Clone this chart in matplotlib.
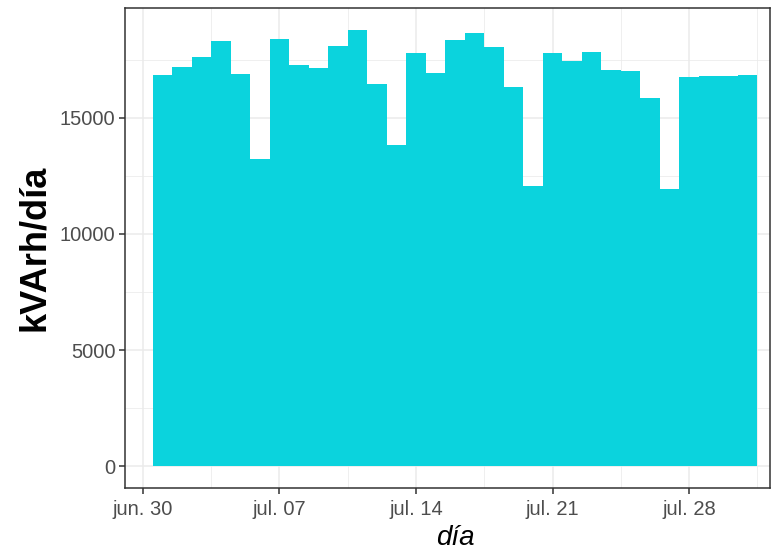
import matplotlib
matplotlib.use("Agg")
import matplotlib.pyplot as plt
import matplotlib.dates as mdates
import datetime as dt

# datos: kVArh por día, julio
dias = [dt.date(2019, 7, d) for d in range(1, 32)]
kvarh = [16850, 17200, 17630, 18320, 16900, 13230, 18400, 17280, 17150, 18100,
         18790, 16460, 13840, 17800, 16940, 18360, 18660, 18060, 16340, 12070,
         17800, 17460, 17850, 17070, 17030, 15860, 11940, 16770, 16810, 16810, 16850]

ticks_x = [dt.date(2019, 6, 30), dt.date(2019, 7, 7), dt.date(2019, 7, 14),
           dt.date(2019, 7, 21), dt.date(2019, 7, 28)]
etiquetas_x = ["jun. 30", "jul. 07", "jul. 14", "jul. 21", "jul. 28"]
ticks_y = [0, 5000, 10000, 15000]

plt.rcParams['font.family'] = ['Liberation Sans', 'DejaVu Sans']

fig = plt.figure(figsize=(7.76, 5.54), dpi=100)
ax = fig.add_axes([125/776, 1 - 488/554, (770-125)/776, (488-8)/554])

x = mdates.date2num(dias)
ax.bar(x, kvarh, width=1.0, color="#0bd3dd", linewidth=0, zorder=2)

# límites del eje (como en el original)
t0 = mdates.date2num(ticks_x[0])
ax.set_xlim(t0 - 0.92, t0 + 32.15)
ymax = max(kvarh)
ax.set_ylim(-0.05 * ymax, ymax * 1.05)

ax.set_xticks(mdates.date2num(ticks_x))
ax.set_xticklabels(etiquetas_x)
ax.set_xticks([t + 3.5 for t in mdates.date2num(ticks_x)], minor=True)
ax.set_yticks(ticks_y)
ax.set_yticklabels([str(v) for v in ticks_y])
ax.set_yticks([2500, 7500, 12500, 17500], minor=True)

ax.grid(which="major", color="#ebebeb", linewidth=1.1, zorder=0)
ax.grid(which="minor", color="#ebebeb", linewidth=0.55, zorder=0)
ax.set_axisbelow(True)
ax.tick_params(which="major", length=4.3, width=1.1, color="#333333",
               labelsize=14.5, labelcolor="#4d4d4d", pad=2.5)
ax.tick_params(axis="x", which="major", pad=4)
ax.tick_params(which="minor", length=0)
for s in ax.spines.values():
    s.set_color("#333333")
    s.set_linewidth(1.1)

ax.set_xlabel("día", fontsize=20, style="italic", labelpad=5)
ax.xaxis.label.set_x(0.512)
ax.set_ylabel("kVArh/día", fontsize=26, fontweight="bold", labelpad=6)

fig.savefig("out.png", dpi=100)
